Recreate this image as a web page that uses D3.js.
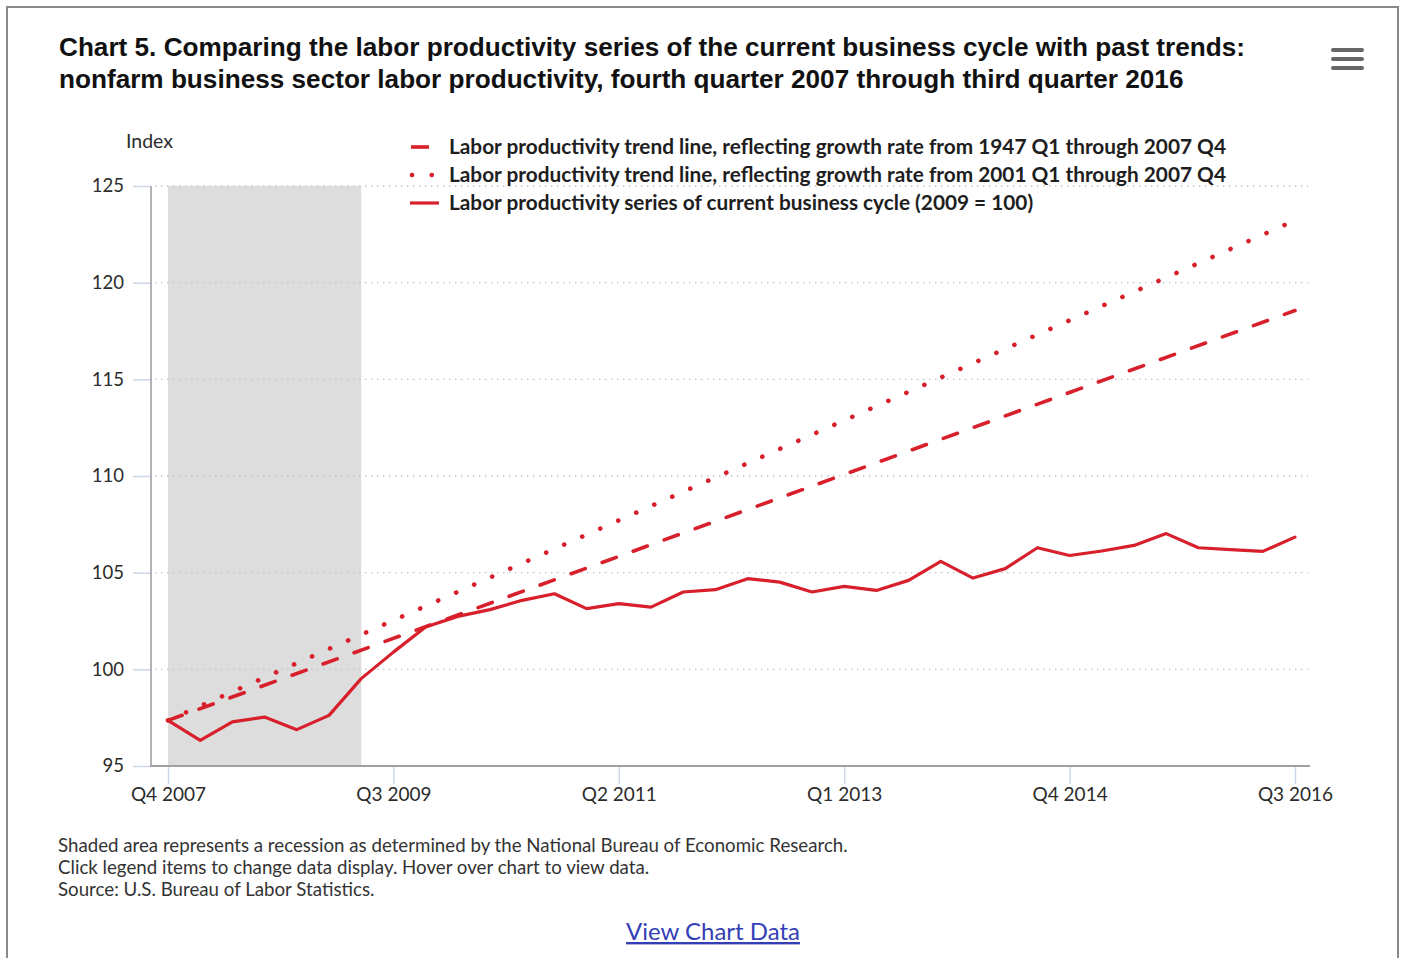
<!DOCTYPE html>
<html>
<head>
<meta charset="utf-8">
<script src="https://cdn.jsdelivr.net/npm/d3@7"></script>
<style>
  html, body { margin: 0; padding: 0; background: #fff; }
  svg { display: block; }
</style>
</head>
<body>
<svg id="chart" width="1401" height="958"></svg>
<script>
// Quarters covered by the current business cycle
const quarters = [
  "Q4 2007",
  "Q1 2008", "Q2 2008", "Q3 2008", "Q4 2008",
  "Q1 2009", "Q2 2009", "Q3 2009", "Q4 2009",
  "Q1 2010", "Q2 2010", "Q3 2010", "Q4 2010",
  "Q1 2011", "Q2 2011", "Q3 2011", "Q4 2011",
  "Q1 2012", "Q2 2012", "Q3 2012", "Q4 2012",
  "Q1 2013", "Q2 2013", "Q3 2013", "Q4 2013",
  "Q1 2014", "Q2 2014", "Q3 2014", "Q4 2014",
  "Q1 2015", "Q2 2015", "Q3 2015", "Q4 2015",
  "Q1 2016", "Q2 2016", "Q3 2016"
];

// Nonfarm business labor productivity index (2009 = 100)
const productivity = [
  97.36,
  96.33, 97.28, 97.53, 96.88,
  97.62, 99.52, 100.89, 102.19,
  102.74, 103.09, 103.57, 103.91,
  103.14, 103.40, 103.22, 104.00,
  104.12, 104.69, 104.51, 104.00,
  104.29, 104.08, 104.60, 105.58,
  104.72, 105.21, 106.29, 105.89,
  106.12, 106.41, 107.02, 106.29,
  106.19, 106.10, 106.84
];

// Trend lines, given at the start and end of the cycle
const trendQuarters = ["Q4 2007", "Q3 2016"];
const trend1947 = [97.36, 118.56];
const trend2001 = [97.36, 123.22];

// NBER recession
const recession = ["Q4 2007", "Q2 2009"];

// Axis ticks
const xTickLabels = ["Q4 2007", "Q3 2009", "Q2 2011", "Q1 2013", "Q4 2014", "Q3 2016"];
const yTicks = [95, 100, 105, 110, 115, 120, 125];

const legendLabels = [
  "Labor productivity trend line, reflecting growth rate from 1947 Q1 through 2007 Q4",
  "Labor productivity trend line, reflecting growth rate from 2001 Q1 through 2007 Q4",
  "Labor productivity series of current business cycle (2009 = 100)"
];

const titleLines = [
  "Chart 5. Comparing the labor productivity series of the current business cycle with past trends:",
  "nonfarm business sector labor productivity, fourth quarter 2007 through third quarter 2016"
];

const notes = [
  "Shaded area represents a recession as determined by the National Bureau of Economic Research.",
  "Click legend items to change data display. Hover over chart to view data.",
  "Source: U.S. Bureau of Labor Statistics."
];

// ---------------------------------------------------------------------------
const RED = "#d7202c";
const SANS = "Lato, 'Open Sans', sans-serif";
const svg = d3.select("#chart");

const plot = { left: 151, right: 1310, top: 186, bottom: 766 };

// scale the font so a line of text fills the given width
function fitWidth(sel, width) {
  const w = sel.node().getComputedTextLength();
  const fs = parseFloat(sel.attr("font-size"));
  sel.attr("font-size", (fs * width / w).toFixed(2));
}

// outer frame
svg.append("rect")
  .attr("x", 7).attr("y", 7).attr("width", 1391).attr("height", 960)
  .attr("fill", "none").attr("stroke", "#8a8a8a").attr("stroke-width", 2);

// title
titleLines.forEach((t, i) => {
  const el = svg.append("text")
    .attr("x", 59).attr("y", 56 + i * 32)
    .attr("font-family", "'Liberation Sans', Arial, sans-serif")
    .attr("font-weight", "bold").attr("font-size", 24)
    .attr("fill", "#111").text(t);
  if (i === 0) fitWidth(el, 1186);
  else el.attr("font-size", svg.select("text").attr("font-size"));
});

// menu icon
[50, 59, 68].forEach(y => {
  svg.append("line")
    .attr("x1", 1333).attr("x2", 1362).attr("y1", y).attr("y2", y)
    .attr("stroke", "#666").attr("stroke-width", 4).attr("stroke-linecap", "round");
});

// scales
const x = d3.scaleLinear().domain([0, quarters.length - 1]).range([168, 1295]);
const xq = q => x(quarters.indexOf(q));
const y = d3.scaleLinear().domain([95, 125]).range([plot.bottom, plot.top]);

// recession band
svg.append("rect")
  .attr("x", xq(recession[0])).attr("width", xq(recession[1]) - xq(recession[0]))
  .attr("y", y(125)).attr("height", y(95) - y(125))
  .attr("fill", "#dddddd");

// dotted gridlines
svg.append("g").selectAll("line").data(yTicks.filter(v => v > 95)).join("line")
  .attr("x1", plot.left + 4).attr("x2", 1308)
  .attr("y1", d => y(d)).attr("y2", d => y(d))
  .attr("stroke", "#c4c4c4").attr("stroke-width", 1.3)
  .attr("stroke-dasharray", "1.5,4.5");

// y axis
const yAxis = svg.append("g")
  .attr("transform", `translate(${plot.left},0)`)
  .call(d3.axisLeft(y).tickValues(yTicks).tickSize(18).tickPadding(9).tickFormat(d3.format("d")));
yAxis.select(".domain").remove();
yAxis.selectAll(".tick line").attr("stroke", "#ccd6eb").attr("stroke-width", 1.5);
yAxis.selectAll(".tick text")
  .attr("font-family", SANS).attr("font-size", 18.5).attr("fill", "#2b2b2b");

svg.append("line")
  .attr("x1", plot.left).attr("x2", plot.left)
  .attr("y1", plot.top).attr("y2", plot.bottom)
  .attr("stroke", "#9a9a9a").attr("stroke-width", 1.5);

// x axis
const xAxis = svg.append("g")
  .attr("transform", `translate(0,${plot.bottom})`)
  .call(d3.axisBottom(x)
    .tickValues(xTickLabels.map(l => quarters.indexOf(l)))
    .tickFormat(i => quarters[i])
    .tickSize(18).tickPadding(4));
xAxis.select(".domain").remove();
xAxis.selectAll(".tick line").attr("stroke", "#ccd6eb").attr("stroke-width", 1.5);
xAxis.selectAll(".tick text")
  .attr("font-family", SANS).attr("font-size", 19).attr("fill", "#2b2b2b");

svg.append("line")
  .attr("x1", plot.left - 1).attr("x2", plot.right)
  .attr("y1", plot.bottom).attr("y2", plot.bottom)
  .attr("stroke", "#a0a0a0").attr("stroke-width", 2.2);

// axis title
svg.append("text")
  .attr("x", 126).attr("y", 148)
  .attr("font-family", SANS).attr("font-size", 19.5).attr("fill", "#2b2b2b")
  .text("Index");

// series
const line = d3.line().x(d => d[0]).y(d => y(d[1]));

const styles = [
  { dash: "15,18", cap: "round", width: 3.6 },
  { dash: "0.1,19.6", cap: "round", width: 4.6 },
  { dash: null, cap: "round", width: 3.2 }
];

const seriesPts = [
  trendQuarters.map((q, i) => [xq(q), trend1947[i]]),
  trendQuarters.map((q, i) => [xq(q), trend2001[i]]),
  quarters.map((q, i) => [xq(q), productivity[i]])
];

seriesPts.forEach((pts, i) => {
  svg.append("path")
    .attr("d", line(pts))
    .attr("fill", "none").attr("stroke", RED)
    .attr("stroke-width", styles[i].width)
    .attr("stroke-linecap", styles[i].cap)
    .attr("stroke-linejoin", "round")
    .attr("stroke-dasharray", styles[i].dash);
});

// legend
const legend = svg.append("g");
let legendSize = null;
legendLabels.forEach((t, i) => {
  const cy = 147 + i * 28;
  const sym = legend.append("line")
    .attr("x1", 412).attr("x2", i === 2 ? 439 : 433)
    .attr("y1", cy).attr("y2", cy)
    .attr("stroke", RED)
    .attr("stroke-width", styles[i].width)
    .attr("stroke-linecap", i === 2 ? "butt" : styles[i].cap)
    .attr("stroke-dasharray", i === 0 ? null : styles[i].dash);
  if (i === 0) sym.attr("x1", 411).attr("x2", 429).attr("stroke-linecap", "butt");
  if (i === 2) sym.attr("x1", 410);
  const el = legend.append("text")
    .attr("x", 449).attr("y", cy + 6.5)
    .attr("font-family", SANS).attr("font-weight", "bold")
    .attr("font-size", 19).attr("fill", "#1e1e1e").text(t);
  if (i === 0) { fitWidth(el, 777); legendSize = el.attr("font-size"); }
  else el.attr("font-size", legendSize);
});

// notes
let noteSize = null;
notes.forEach((t, i) => {
  const el = svg.append("text")
    .attr("x", 58).attr("y", 852 + i * 22)
    .attr("font-family", SANS).attr("font-size", 16).attr("fill", "#333").text(t);
  if (i === 0) { fitWidth(el, 790); noteSize = el.attr("font-size"); }
  else el.attr("font-size", noteSize);
});

// data link
const link = svg.append("text")
  .attr("x", 713).attr("y", 940).attr("text-anchor", "middle")
  .attr("font-family", SANS).attr("font-size", 22).attr("fill", "#3340b5")
  .attr("text-decoration", "underline")
  .text("View Chart Data");
fitWidth(link, 174);
</script>
</body>
</html>
